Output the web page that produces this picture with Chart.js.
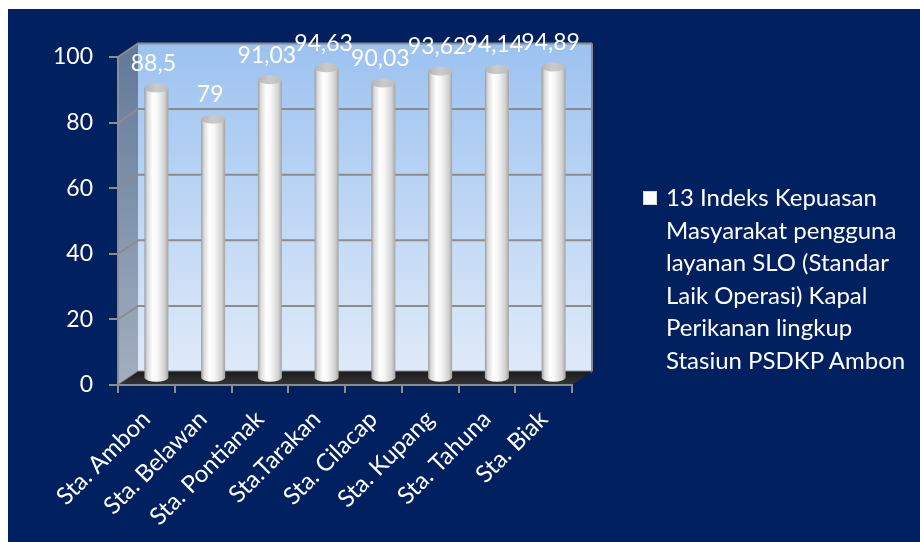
<!DOCTYPE html>
<html>
<head>
<meta charset="utf-8">
<title>Indeks Kepuasan Masyarakat</title>
<script src="https://cdn.jsdelivr.net/npm/chart.js@4.4.1/dist/chart.umd.min.js"></script>
<style>
  html, body { margin: 0; padding: 0; background: #ffffff; }
  #frame { position: absolute; left: 8px; top: 9px; width: 912px; height: 533px; background: #002060; overflow: hidden; }
  #chart { position: absolute; left: 0; top: 0; }
  #legend { position: absolute; left: 635px; top: 172px; color: #ffffff; font-family: Lato, sans-serif; font-size: 24px; line-height: 32.6px; }
  #legend .box { position: absolute; left: 0; top: 10px; width: 14px; height: 14px; background: #ffffff; box-shadow: inset 0 0 0 1px #d8d8d8; }
  #legend .text { margin-left: 23px; white-space: nowrap; }
</style>
</head>
<body>
<div id="frame">
  <canvas id="chart" width="912" height="533"></canvas>
  <div id="legend"><span class="box"></span><div class="text" id="legend-text"></div></div>
</div>
<script>
// Data
const stations = ['Sta. Ambon', 'Sta. Belawan', 'Sta. Pontianak', 'Sta.Tarakan', 'Sta. Cilacap', 'Sta. Kupang', 'Sta. Tahuna', 'Sta. Biak'];
const scores = [88.5, 79, 91.03, 94.63, 90.03, 93.62, 94.14, 94.89];
const yTicks = [0, 20, 40, 60, 80, 100];
const seriesLines = ['13 Indeks Kepuasan', 'Masyarakat pengguna', 'layanan SLO (Standar', 'Laik Operasi) Kapal', 'Perikanan lingkup', 'Stasiun PSDKP Ambon'];
const seriesName = seriesLines.join(' ');

// 3D depth offset of the back wall
const DX = 20;
const DY = -13.5;
const GRID = '#8c8c8c';
const FONT = 'Lato, sans-serif';

// Legend
document.getElementById('legend-text').innerHTML = seriesLines.join('<br>');

function formatValue(v) {
  return String(v).replace('.', ',');
}

// Walls, floor and back gridlines
const wallsPlugin = {
  id: 'walls',
  beforeDraw(chart) {
    const { ctx, chartArea: a, scales } = chart;
    const y = scales.y;
    ctx.save();

    // back wall
    const back = ctx.createLinearGradient(0, a.top + DY, 0, a.bottom + DY);
    back.addColorStop(0, '#9cc2f0');
    back.addColorStop(1, '#dfeaf9');
    ctx.fillStyle = back;
    ctx.fillRect(a.left + DX, a.top + DY, a.right - a.left, a.bottom - a.top);

    // left wall
    const side = ctx.createLinearGradient(0, a.top, 0, a.bottom);
    side.addColorStop(0, '#637b9b');
    side.addColorStop(1, '#a3afc0');
    ctx.fillStyle = side;
    ctx.beginPath();
    ctx.moveTo(a.left, a.top);
    ctx.lineTo(a.left + DX, a.top + DY);
    ctx.lineTo(a.left + DX, a.bottom + DY);
    ctx.lineTo(a.left, a.bottom);
    ctx.closePath();
    ctx.fill();

    // gridlines on the walls
    ctx.strokeStyle = GRID;
    ctx.lineWidth = 2;
    yTicks.forEach(v => {
      const py = y.getPixelForValue(v);
      ctx.beginPath();
      ctx.moveTo(a.left, py);
      ctx.lineTo(a.left + DX, py + DY);
      ctx.lineTo(a.right + DX, py + DY);
      ctx.stroke();
    });
    ctx.beginPath();
    ctx.moveTo(a.right + DX, a.top + DY);
    ctx.lineTo(a.right + DX, a.bottom + DY);
    ctx.stroke();

    // floor
    const floor = ctx.createLinearGradient(0, a.bottom + DY, 0, a.bottom);
    floor.addColorStop(0, '#1c1c1c');
    floor.addColorStop(1, '#353535');
    ctx.fillStyle = floor;
    ctx.beginPath();
    ctx.moveTo(a.left, a.bottom);
    ctx.lineTo(a.left + DX, a.bottom + DY);
    ctx.lineTo(a.right + DX, a.bottom + DY);
    ctx.lineTo(a.right, a.bottom);
    ctx.closePath();
    ctx.fill();
    ctx.restore();
  }
};

// Cylinders and value labels, placed from the bar elements
const cylinderPlugin = {
  id: 'cylinders',
  afterDatasetsDraw(chart) {
    const { ctx } = chart;
    const meta = chart.getDatasetMeta(0);
    ctx.save();
    meta.data.forEach((bar, i) => {
      const cx = bar.x + DX / 2;
      const top = bar.y + DY / 2;
      const bottom = bar.base + DY / 2;
      const rx = 12;
      const ry = 4.5;

      const body = ctx.createLinearGradient(cx - rx, 0, cx + rx, 0);
      body.addColorStop(0, '#9c9c9c');
      body.addColorStop(0.12, '#dadada');
      body.addColorStop(0.35, '#ffffff');
      body.addColorStop(0.55, '#f6f6f6');
      body.addColorStop(0.85, '#d2d2d2');
      body.addColorStop(1, '#a4a4a4');
      ctx.fillStyle = body;
      ctx.beginPath();
      ctx.moveTo(cx - rx, top);
      ctx.lineTo(cx - rx, bottom);
      ctx.ellipse(cx, bottom, rx, ry, 0, Math.PI, 0, true);
      ctx.lineTo(cx + rx, top);
      ctx.closePath();
      ctx.fill();

      const cap = ctx.createLinearGradient(cx - rx, 0, cx + rx, 0);
      cap.addColorStop(0, '#b4b4b4');
      cap.addColorStop(0.5, '#cbcbcb');
      cap.addColorStop(1, '#bcbcbc');
      ctx.fillStyle = cap;
      ctx.beginPath();
      ctx.ellipse(cx, top, rx, ry, 0, 0, Math.PI * 2);
      ctx.fill();

      ctx.fillStyle = '#ffffff';
      ctx.font = '23px ' + FONT;
      ctx.textAlign = 'center';
      ctx.textBaseline = 'alphabetic';
      ctx.fillText(formatValue(scores[i]), cx - 3, top - 17);
    });
    ctx.restore();
  }
};

new Chart(document.getElementById('chart'), {
  type: 'bar',
  data: {
    labels: stations,
    datasets: [{
      label: seriesName,
      data: scores,
      backgroundColor: 'rgba(0,0,0,0)',
      borderWidth: 0
    }]
  },
  options: {
    responsive: false,
    animation: false,
    layout: {
      autoPadding: false,
      padding: { left: 0, top: 48, right: 348, bottom: 0 }
    },
    plugins: {
      legend: { display: false },
      tooltip: { enabled: false }
    },
    scales: {
      x: {
        afterFit: scale => { scale.height = 157; },
        grid: { drawOnChartArea: false, color: GRID, tickLength: 8, lineWidth: 2 },
        border: { display: true, color: GRID, width: 2 },
        ticks: {
          color: '#ffffff',
          font: { family: FONT, size: 24 },
          minRotation: 45,
          maxRotation: 45,
          padding: 12
        }
      },
      y: {
        min: 0,
        max: 100,
        afterFit: scale => { scale.width = 110; },
        grid: { drawOnChartArea: false, color: GRID, tickLength: 9, lineWidth: 2 },
        border: { display: true, color: GRID, width: 2 },
        ticks: {
          stepSize: 20,
          color: '#ffffff',
          font: { family: FONT, size: 23 },
          padding: 16
        }
      }
    }
  },
  plugins: [wallsPlugin, cylinderPlugin]
});
</script>
</body>
</html>
